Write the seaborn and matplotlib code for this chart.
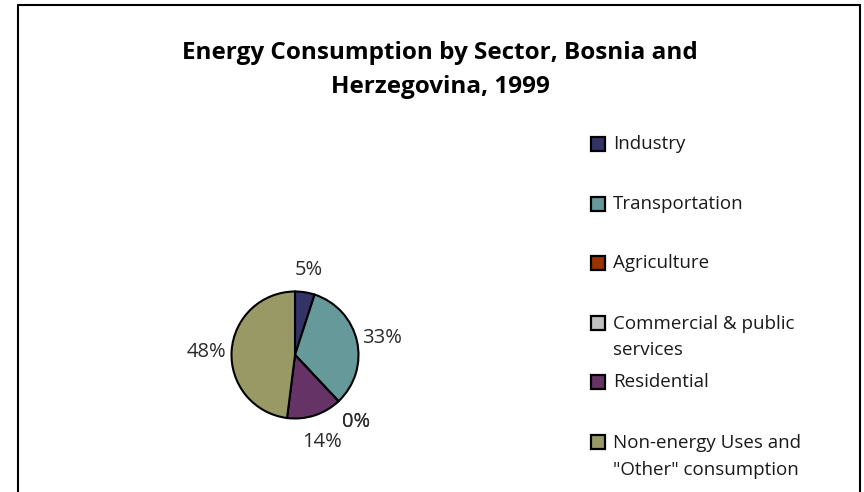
import matplotlib.pyplot as plt
import matplotlib.patches as mpatches
from matplotlib.lines import Line2D
import seaborn as sns

sectors = ["Industry", "Transportation", "Agriculture",
           "Commercial & public services", "Residential",
           "Non-energy Uses and \"Other\" consumption"]
legend_labels = ["Industry", "Transportation", "Agriculture",
                 "Commercial & public\nservices", "Residential",
                 "Non-energy Uses and\n\"Other\" consumption"]
shares = [5, 33, 0, 0, 14, 48]
colors = ["#333366", "#669999", "#993300", "#c0c0c0", "#663366", "#999966"]

sns.set_theme(style="white")
plt.rcParams['font.family'] = ['Open Sans', 'DejaVu Sans']

W, H = 864, 492
fig = plt.figure(figsize=(W / 100, H / 100), dpi=100)

# frame (open at the bottom)
fx = lambda px: px / W
fy = lambda py: 1 - py / H
for xs, ys in [((18, 860), (5, 5)), ((18, 18), (5, 492)), ((860, 860), (5, 492))]:
    fig.add_artist(Line2D([fx(x) for x in xs], [fy(y) for y in ys],
                          color="black", lw=1.5))

fig.text(fx(440), fy(70), "Energy Consumption by Sector, Bosnia and\nHerzegovina, 1999",
         ha="center", va="center", fontsize=17.5, fontweight="bold",
         linespacing=1.55, color="black")

# pie
cx, cy, r = 295, 355, 63.5
size = 3 * r
ax = fig.add_axes([fx(cx - size / 2), fy(cy + size / 2), size / W, size / H])
wedges, texts = ax.pie(shares, colors=colors, startangle=90, counterclock=False,
                       labels=[f"{v}%" for v in shares], labeldistance=1.4,
                       wedgeprops=dict(edgecolor="black", linewidth=1.5),
                       textprops=dict(fontsize=14.5, color="#2a2a2a"))
for t in texts:
    t.set_ha("center")
    t.set_va("center_baseline")
ax.set_xlim(-1.5, 1.5)
ax.set_ylim(-1.5, 1.5)
ax.set_aspect("equal")
ax.axis("off")

# legend
y0, step = 144, 59.6
for i, (lab, col) in enumerate(zip(legend_labels, colors)):
    y = y0 + i * step
    fig.add_artist(mpatches.Rectangle((fx(591), fy(y + 7)), 14 / W, 14 / H,
                                      facecolor=col, edgecolor="black", lw=1.6))
    fig.text(fx(613), fy(y - 8) if "\n" in lab else fy(y), lab, ha="left",
             va="top" if "\n" in lab else "center",
             fontsize=13.5, color="#1a1a1a", linespacing=1.62,
             transform=fig.transFigure)

fig.savefig("out.png", dpi=100, facecolor="white")
